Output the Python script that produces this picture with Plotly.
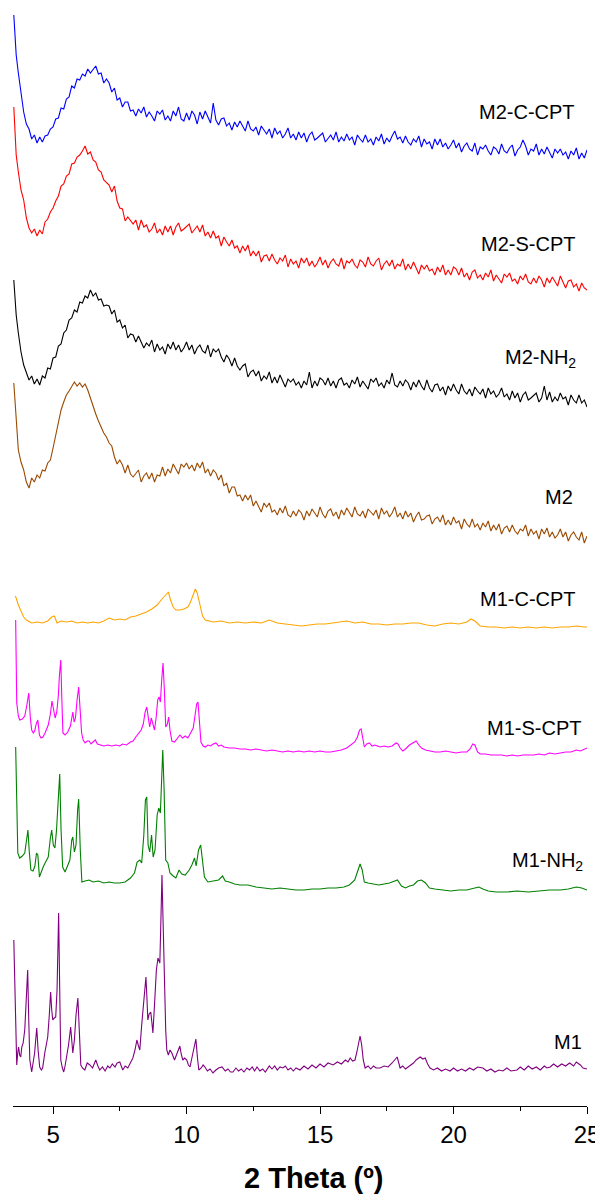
import plotly.graph_objects as go

# ---------------- data (2 theta in degrees, intensity in a.u.) ----------------
M2_THETA = [3.53, 3.57, 3.62, 3.70, 3.80, 3.90,
            4.0, 4.1, 4.2, 4.3, 4.4, 4.5, 4.6, 4.7, 4.8, 4.9,
            5.0, 5.1, 5.2, 5.3, 5.4, 5.5, 5.6, 5.7, 5.8, 5.9,
            6.0, 6.1, 6.2, 6.3, 6.4, 6.5, 6.6, 6.7, 6.8, 6.9, 7.0,
            7.1, 7.2, 7.3, 7.4, 7.5, 7.6, 7.7, 7.8, 7.9, 8.0,
            8.1, 8.2, 8.3, 8.4, 8.5, 8.6, 8.7, 8.8, 8.9, 9.0,
            9.1, 9.2, 9.3, 9.4, 9.5, 9.6, 9.7, 9.8, 9.9, 10.0,
            10.1, 10.2, 10.3, 10.4, 10.5, 10.6, 10.7, 10.8, 10.9, 11.0,
            11.1, 11.2, 11.3, 11.4, 11.5, 11.6, 11.7, 11.8, 11.9, 12.0,
            12.1, 12.2, 12.3, 12.4, 12.5, 12.6, 12.7, 12.8, 12.9, 13.0,
            13.1, 13.2, 13.3, 13.4, 13.5, 13.6, 13.7, 13.8, 13.9, 14.0,
            14.1, 14.2, 14.3, 14.4, 14.5, 14.6, 14.7, 14.8, 14.9, 15.0,
            15.1, 15.2, 15.3, 15.4, 15.5, 15.6, 15.7, 15.8, 15.9, 16.0,
            16.1, 16.2, 16.3, 16.4, 16.5, 16.6, 16.7, 16.8, 16.9, 17.0,
            17.1, 17.2, 17.3, 17.4, 17.5, 17.6, 17.7, 17.8, 17.9, 18.0,
            18.1, 18.2, 18.3, 18.4, 18.5, 18.6, 18.7, 18.8, 18.9, 19.0,
            19.1, 19.2, 19.3, 19.4, 19.5, 19.6, 19.7, 19.8, 19.9, 20.0,
            20.1, 20.2, 20.3, 20.4, 20.5, 20.6, 20.7, 20.8, 20.9, 21.0,
            21.1, 21.2, 21.3, 21.4, 21.5, 21.6, 21.7, 21.8, 21.9, 22.0,
            22.1, 22.2, 22.3, 22.4, 22.5, 22.6, 22.7, 22.8, 22.9, 23.0,
            23.1, 23.2, 23.3, 23.4, 23.5, 23.6, 23.7, 23.8, 23.9, 24.0,
            24.1, 24.2, 24.3, 24.4, 24.5, 24.6, 24.7, 24.8, 24.9, 25.0]

M2_C_CPT = [145, 125, 105, 87, 67, 48,
            36, 31, 21, 25, 17, 23, 18, 24, 25, 31,
            33, 41, 42, 52, 51, 61, 63, 74, 72, 81,
            80, 86, 84, 91, 87, 90, 94, 86, 87, 77, 81,
            77, 68, 72, 60, 62, 53, 58, 58, 49, 50,
            44, 51, 47, 53, 43, 48, 44, 39, 49, 46,
            50, 40, 44, 39, 49, 44, 53, 41, 39, 47,
            40, 49, 45, 36, 48, 41, 49, 43, 37, 57,
            40, 35, 41, 42, 34, 37, 30, 38, 33, 39,
            34, 29, 39, 31, 29, 33, 25, 34, 30, 26,
            31, 22, 32, 26, 29, 22, 26, 32, 22, 26,
            20, 28, 22, 27, 18, 25, 28, 20, 22, 25,
            27, 18, 22, 25, 20, 28, 18, 23, 19, 26,
            20, 23, 15, 25, 21, 18, 25, 18, 21, 15,
            23, 19, 26, 16, 22, 18, 24, 29, 21, 23,
            17, 24, 18, 15, 21, 18, 24, 13, 21, 16,
            18, 11, 21, 15, 21, 13, 17, 11, 15, 20,
            12, 17, 8, 14, 17, 11, 9, 17, 5, 13,
            11, 15, 9, 5, 13, 11, 6, 16, 9, 7,
            12, 15, 4, 10, 13, 20, 14, 5, 11, 9,
            16, 5, 11, 6, 13, 7, 2, 11, 7, 11,
            5, 8, 1, 9, 5, 12, 1, 7, 2, 10]

M2_S_CPT = [193, 175, 145, 128, 110, 100,
            82, 72, 67, 71, 64, 70, 66, 78, 81, 88,
            92, 99, 104, 114, 116, 124, 126, 136, 137, 143,
            145, 149, 154, 146, 148, 140, 138, 130, 128, 120, 117,
            115, 108, 114, 99, 92, 91, 79, 83, 79, 76,
            80, 70, 80, 73, 75, 68, 71, 77, 67, 71,
            65, 74, 68, 74, 65, 73, 77, 69, 71, 74,
            76, 67, 71, 74, 68, 75, 64, 68, 62, 69,
            62, 64, 54, 63, 58, 54, 60, 52, 54, 47,
            54, 49, 55, 44, 49, 44, 49, 38, 44, 45,
            39, 46, 40, 36, 42, 39, 45, 33, 41, 36,
            39, 32, 42, 37, 42, 34, 39, 33, 37, 43,
            35, 40, 32, 38, 41, 36, 34, 42, 31, 39,
            37, 41, 35, 32, 40, 38, 33, 43, 36, 34,
            39, 42, 30, 36, 39, 34, 40, 31, 36, 34,
            41, 30, 36, 31, 38, 32, 26, 35, 31, 35,
            29, 31, 25, 33, 28, 35, 25, 30, 25, 33,
            31, 25, 32, 23, 27, 20, 28, 30, 22, 25,
            20, 27, 23, 30, 19, 25, 21, 17, 26, 23,
            27, 19, 21, 16, 24, 20, 26, 18, 16, 22,
            17, 24, 20, 13, 22, 17, 23, 18, 14, 24,
            17, 12, 19, 20, 13, 16, 9, 17, 12, 10]

M2_NH2 = [130, 115, 95, 77, 58, 45,
          38, 30, 34, 26, 31, 25, 34, 32, 42, 41,
          52, 53, 64, 66, 77, 80, 90, 92, 100, 98,
          108, 107, 114, 112, 120, 114, 117, 110, 111, 104, 105,
          104, 96, 100, 88, 90, 82, 85, 72, 76, 75,
          68, 74, 67, 62, 67, 64, 70, 58, 66, 60,
          63, 56, 66, 61, 68, 60, 65, 58, 62, 68,
          60, 65, 56, 62, 65, 59, 57, 65, 53, 61,
          58, 61, 53, 48, 55, 51, 44, 52, 44, 40,
          44, 46, 33, 38, 40, 34, 39, 29, 34, 31,
          38, 27, 33, 27, 35, 28, 23, 31, 28, 31,
          25, 28, 22, 29, 25, 38, 22, 29, 24, 32,
          30, 25, 32, 24, 29, 22, 30, 32, 25, 27,
          22, 30, 26, 33, 23, 29, 25, 21, 31, 28,
          32, 24, 27, 22, 30, 26, 37, 25, 23, 29,
          24, 30, 27, 20, 28, 23, 30, 24, 20, 30,
          22, 18, 25, 26, 19, 23, 15, 24, 19, 26,
          20, 16, 26, 19, 16, 21, 14, 23, 19, 16,
          21, 12, 22, 16, 19, 13, 16, 22, 13, 16,
          10, 19, 12, 17, 8, 15, 18, 10, 12, 15,
          17, 8, 12, 24, 10, 18, 8, 13, 9, 17,
          11, 13, 5, 15, 10, 7, 15, 7, 10, 3]

M2_BARE = [167, 150, 130, 100, 88, 80,
           68, 62, 72, 68, 75, 72, 80, 79, 87, 90,
           102, 115, 126, 140, 148, 155, 159, 164, 168, 164,
           167, 163, 166, 160, 152, 142, 136, 129, 123, 117, 113,
           107, 104, 93, 86, 90, 85, 77, 85, 76, 73,
           77, 80, 68, 74, 77, 71, 77, 68, 75, 74,
           83, 74, 81, 77, 86, 81, 76, 86, 83, 87,
           81, 85, 79, 87, 82, 88, 77, 81, 74, 80,
           77, 70, 75, 64, 67, 57, 63, 63, 54, 55,
           49, 55, 50, 55, 44, 49, 44, 38, 47, 43,
           47, 38, 40, 35, 42, 37, 44, 35, 33, 39,
           34, 40, 37, 30, 39, 34, 41, 37, 33, 43,
           36, 32, 39, 41, 34, 38, 31, 40, 35, 42,
           37, 33, 43, 36, 34, 39, 32, 41, 38, 35,
           40, 31, 42, 36, 39, 33, 37, 43, 33, 37,
           31, 39, 33, 37, 28, 34, 38, 30, 31, 34,
           35, 26, 31, 33, 28, 35, 25, 30, 25, 33,
           27, 29, 21, 31, 26, 23, 31, 23, 26, 20,
           27, 23, 29, 19, 25, 20, 26, 16, 22, 24,
           18, 25, 19, 16, 21, 19, 25, 14, 21, 16,
           19, 11, 21, 16, 22, 13, 18, 12, 15, 21,
           13, 18, 9, 15, 18, 13, 10, 18, 7, 14]

M1_C_CPT_THETA = [3.58, 3.62, 3.70, 3.80, 3.90, 4.0, 4.2, 4.4, 4.6, 4.8,
                  4.95, 5.05, 5.15, 5.3, 5.5, 5.7, 5.9, 6.1, 6.3, 6.5,
                  6.7, 6.9, 7.1, 7.3, 7.5, 7.7, 7.9, 8.1, 8.3, 8.5,
                  8.7, 8.9, 9.05, 9.15, 9.25, 9.32, 9.4, 9.5, 9.6, 9.75,
                  9.9, 10.05, 10.15, 10.25, 10.33, 10.4, 10.5, 10.6, 10.7, 10.85,
                  11.0, 11.3, 11.6, 11.9, 12.2, 12.5, 12.8, 13.1, 13.4, 13.7,
                  14.0, 14.3, 14.6, 14.9, 15.2, 15.5, 15.8, 16.0, 16.3, 16.6,
                  16.9, 17.2, 17.5, 17.8, 18.1, 18.4, 18.7, 19.0, 19.3, 19.6,
                  19.9, 20.2, 20.5, 20.65, 20.8, 21.0, 21.3, 21.6, 21.9, 22.2,
                  22.5, 22.8, 23.1, 23.4, 23.7, 24.0, 24.3, 24.6, 24.9, 25.0]
M1_C_CPT = [44, 42, 35, 28, 23, 20, 17, 18, 17, 19,
            23, 24, 17, 19, 18, 19, 17, 18, 17, 18,
            17, 19, 22, 20, 21, 20, 23, 24, 26, 28,
            31, 35, 40, 43, 47, 48, 40, 33, 30, 30,
            31, 33, 38, 46, 51, 47, 35, 24, 20, 19,
            18, 19, 17, 18, 17, 18, 17, 20, 17, 16,
            15, 14, 15, 16, 16, 17, 18, 19, 17, 18,
            16, 16, 15, 16, 16, 17, 17, 15, 14, 16,
            17, 16, 18, 21, 19, 14, 13, 13, 12, 13,
            12, 13, 12, 13, 12, 13, 13, 14, 13, 13]

M1_S_CPT_THETA = [3.60, 3.64, 3.70, 3.75, 3.85, 3.94, 4.02, 4.09, 4.15, 4.20,
                  4.26, 4.31, 4.37, 4.43, 4.49, 4.55, 4.62, 4.70, 4.82, 4.90,
                  4.96, 5.02, 5.08, 5.14, 5.20, 5.24, 5.29, 5.33, 5.37, 5.45,
                  5.55, 5.65, 5.70, 5.74, 5.79, 5.84, 5.90, 5.96, 6.02, 6.07,
                  6.13, 6.20, 6.28, 6.35, 6.42, 6.50, 6.58, 6.66, 6.75, 6.90,
                  7.05, 7.20, 7.35, 7.50, 7.60, 7.75, 7.90, 8.00, 8.10, 8.20,
                  8.30, 8.38, 8.45, 8.51, 8.56, 8.62, 8.68, 8.74, 8.80, 8.86,
                  8.92, 8.97, 9.02, 9.07, 9.12, 9.17, 9.22, 9.28, 9.33, 9.38,
                  9.45, 9.55, 9.65, 9.75, 9.85, 9.95, 10.05, 10.15, 10.25, 10.32,
                  10.38, 10.43, 10.48, 10.54, 10.62, 10.70, 10.80, 10.90, 11.00, 11.10,
                  11.2, 11.3, 11.4, 11.6, 11.8, 12.0, 12.2, 12.4, 12.6, 12.8,
                  13.0, 13.2, 13.4, 13.6, 13.8, 14.0, 14.2, 14.4, 14.6, 14.8,
                  15.0, 15.2, 15.4, 15.6, 15.8, 16.0, 16.15, 16.3, 16.4, 16.48,
                  16.54, 16.60, 16.66, 16.75, 16.85, 16.95, 17.05, 17.15, 17.25, 17.40,
                  17.55, 17.70, 17.85, 17.92, 18.00, 18.10, 18.20, 18.35, 18.50, 18.60,
                  18.70, 18.80, 18.95, 19.10, 19.30, 19.50, 19.70, 19.90, 20.10, 20.30,
                  20.50, 20.62, 20.72, 20.80, 20.90, 21.00, 21.20, 21.40, 21.60, 21.80,
                  22.0, 22.2, 22.4, 22.6, 22.8, 23.0, 23.2, 23.4, 23.6, 23.8,
                  24.0, 24.2, 24.4, 24.6, 24.75, 24.9, 25.0]
M1_S_CPT = [140, 57, 44, 40, 41, 44, 55, 67, 42, 30,
            27, 29, 36, 40, 25, 22, 23, 27, 35, 46,
            59, 48, 42, 48, 65, 85, 100, 60, 27, 25,
            28, 34, 44, 48, 38, 42, 60, 73, 48, 27,
            20, 17, 19, 19, 16, 18, 20, 16, 15, 14,
            15, 14, 15, 14, 16, 15, 18, 19, 23, 27,
            30, 36, 48, 53, 42, 33, 42, 35, 30, 42,
            60, 63, 58, 80, 97, 70, 33, 36, 43, 30,
            19, 18, 22, 25, 22, 24, 22, 27, 32, 45,
            56, 58, 40, 18, 14, 13, 15, 14, 16, 17,
            14, 15, 13, 12, 12, 11, 11, 10, 11, 10,
            9, 10, 9, 8, 9, 8, 9, 8, 9, 8,
            9, 8, 8, 9, 10, 12, 15, 18, 23, 30,
            31, 20, 13, 16, 17, 14, 15, 14, 13, 14,
            13, 14, 17, 16, 12, 9, 11, 15, 17, 19,
            15, 12, 10, 9, 8, 8, 9, 8, 7, 8,
            8, 11, 16, 15, 8, 6, 6, 5, 5, 5,
            4, 5, 4, 5, 5, 5, 6, 5, 7, 6,
            7, 8, 8, 10, 9, 11, 12]

M1_NH2_THETA = [3.60, 3.64, 3.68, 3.75, 3.85, 3.94, 4.01, 4.06, 4.11, 4.17,
                4.25, 4.32, 4.38, 4.43, 4.49, 4.55, 4.63, 4.72, 4.82, 4.90,
                4.95, 5.01, 5.07, 5.13, 5.20, 5.25, 5.30, 5.36, 5.45, 5.55,
                5.63, 5.70, 5.74, 5.80, 5.86, 5.92, 5.96, 6.02, 6.08, 6.20,
                6.35, 6.50, 6.70, 6.90, 7.10, 7.30, 7.50, 7.70, 7.90, 8.05,
                8.15, 8.25, 8.32, 8.40, 8.46, 8.51, 8.56, 8.62, 8.69, 8.75,
                8.82, 8.90, 8.96, 9.02, 9.07, 9.11, 9.16, 9.22, 9.30, 9.38,
                9.50, 9.60, 9.72, 9.82, 9.95, 10.10, 10.20, 10.30, 10.36, 10.45,
                10.53, 10.60, 10.67, 10.80, 11.00, 11.20, 11.35, 11.45, 11.60, 11.80,
                12.0, 12.3, 12.6, 12.9, 13.2, 13.5, 13.8, 14.1, 14.4, 14.7,
                15.0, 15.3, 15.6, 15.9, 16.1, 16.3, 16.4, 16.5, 16.58, 16.66,
                16.8, 17.0, 17.2, 17.4, 17.6, 17.8, 17.9, 18.05, 18.2, 18.35,
                18.5, 18.65, 18.8, 18.95, 19.1, 19.3, 19.6, 19.9, 20.2, 20.5,
                20.8, 20.95, 21.1, 21.3, 21.6, 22.0, 22.4, 22.8, 23.2, 23.6,
                24.0, 24.3, 24.6, 24.8, 25.0]
M1_NH2 = [153, 100, 47, 42, 44, 47, 62, 70, 48, 30,
          29, 34, 47, 45, 23, 28, 33, 38, 43, 62,
          70, 55, 52, 70, 110, 126, 70, 33, 28, 34,
          40, 60, 63, 48, 55, 90, 101, 50, 18, 19,
          20, 18, 19, 17, 18, 17, 17, 18, 22, 27,
          38, 40, 37, 65, 100, 103, 55, 48, 65, 43,
          50, 85, 92, 87, 130, 150, 110, 40, 37, 27,
          24, 22, 30, 26, 25, 30, 35, 42, 34, 50,
          55, 40, 23, 18, 19, 20, 24, 19, 18, 16,
          15, 15, 13, 12, 11, 12, 11, 10, 10, 11,
          11, 12, 12, 13, 15, 20, 28, 36, 30, 18,
          17, 16, 15, 16, 17, 19, 20, 14, 12, 14,
          15, 19, 20, 17, 12, 11, 10, 9, 10, 10,
          12, 13, 11, 9, 8, 8, 9, 8, 9, 10,
          10, 11, 13, 12, 10]

M1_THETA = [3.53, 3.57, 3.60, 3.64, 3.68, 3.71, 3.75, 3.79, 3.83, 3.88,
            3.94, 4.00, 4.05, 4.09, 4.13, 4.20, 4.25, 4.31, 4.35, 4.39,
            4.44, 4.50, 4.56, 4.61, 4.69, 4.75, 4.80, 4.86, 4.91, 4.95,
            4.99, 5.05, 5.10, 5.15, 5.21, 5.25, 5.29, 5.35, 5.40, 5.45,
            5.51, 5.58, 5.66, 5.70, 5.74, 5.80, 5.86, 5.93, 5.98, 6.04,
            6.10, 6.19, 6.28, 6.38, 6.48, 6.60, 6.68, 6.75, 6.85, 6.95,
            7.05, 7.13, 7.22, 7.32, 7.40, 7.50, 7.61, 7.70, 7.80, 7.90,
            7.99, 8.07, 8.14, 8.20, 8.25, 8.32, 8.40, 8.48, 8.52, 8.55,
            8.60, 8.66, 8.70, 8.74, 8.80, 8.87, 8.93, 9.00, 9.04, 9.08,
            9.12, 9.16, 9.19, 9.22, 9.26, 9.32, 9.38, 9.45, 9.55, 9.65,
            9.75, 9.80, 9.86, 9.93, 10.01, 10.07, 10.13, 10.20, 10.27, 10.35,
            10.41, 10.46, 10.55, 10.62, 10.69, 10.78, 10.88, 10.99, 11.10, 11.20,
            11.33, 11.45, 11.55, 11.65, 11.74, 11.85, 11.95, 12.05, 12.15, 12.26,
            12.36, 12.46, 12.55, 12.64, 12.75, 12.85, 12.95, 13.01, 13.10, 13.20,
            13.30, 13.40, 13.50, 13.61, 13.70, 13.80, 13.90, 14.00, 14.10, 14.25,
            14.40, 14.55, 14.70, 14.85, 15.00, 15.15, 15.30, 15.49, 15.65, 15.80,
            15.95, 16.05, 16.13, 16.22, 16.31, 16.38, 16.44, 16.50, 16.56, 16.62,
            16.69, 16.80, 16.90, 17.00, 17.10, 17.25, 17.40, 17.55, 17.70, 17.80,
            17.89, 17.95, 18.00, 18.10, 18.20, 18.35, 18.50, 18.60, 18.68, 18.75,
            18.85, 18.94, 19.03, 19.12, 19.25, 19.40, 19.55, 19.70, 19.87, 20.00,
            20.15, 20.30, 20.45, 20.60, 20.75, 20.90, 21.10, 21.25, 21.40, 21.55,
            21.70, 21.85, 22.00, 22.15, 22.38, 22.50, 22.65, 22.80, 22.95, 23.10,
            23.25, 23.40, 23.50, 23.62, 23.75, 23.90, 24.05, 24.20, 24.35, 24.50,
            24.60, 24.75, 24.85, 25.00]
M1_BARE = [140, 95, 60, 15, 28, 33, 25, 23, 33, 37,
           50, 80, 110, 60, 20, 8, 16, 27, 40, 52,
           30, 13, 10, 12, 27, 34, 43, 65, 88, 70,
           60, 62, 63, 90, 167, 90, 20, 12, 8, 14,
           23, 35, 53, 40, 27, 40, 65, 82, 45, 15,
           12, 10, 17, 15, 12, 20, 14, 10, 13, 9,
           14, 12, 16, 13, 17, 18, 10, 14, 12, 18,
           22, 30, 40, 34, 30, 55, 80, 103, 80, 60,
           66, 68, 58, 47, 75, 110, 122, 117, 160, 205,
           160, 110, 100, 50, 30, 25, 30, 27, 20, 28,
           34, 26, 20, 22, 20, 15, 13, 22, 32, 41,
           22, 10, 12, 15, 13, 9, 11, 7, 10, 12,
           13, 9, 11, 8, 8, 12, 9, 11, 8, 12,
           10, 13, 9, 13, 9, 11, 8, 10, 14, 11,
           14, 10, 13, 12, 14, 10, 12, 9, 12, 10,
           14, 11, 15, 12, 16, 13, 17, 15, 18, 16,
           20, 18, 22, 19, 20, 28, 38, 44, 35, 20,
           12, 14, 11, 14, 12, 12, 14, 13, 17, 20,
           23, 17, 12, 14, 11, 14, 17, 20, 22, 23,
           21, 22, 16, 12, 10, 12, 9, 11, 9, 12,
           9, 11, 9, 12, 10, 13, 12, 9, 11, 8,
           10, 9, 12, 9, 10, 13, 10, 14, 11, 13,
           10, 14, 12, 13, 16, 13, 16, 14, 17, 14,
           18, 15, 12, 11]

LABELS = ["M2-C-CPT", "M2-S-CPT", "M2-NH<sub>2</sub>", "M2",
          "M1-C-CPT", "M1-S-CPT", "M1-NH<sub>2</sub>", "M1"]
TICKS = [5, 10, 15, 20, 25]

# ---------------- styling / stacking ----------------
series = [
    (M2_THETA, M2_C_CPT, 946, "#0000FF"),
    (M2_THETA, M2_S_CPT, 806, "#FF0000"),
    (M2_THETA, M2_NH2, 696, "#000000"),
    (M2_THETA, M2_BARE, 556, "#9A4A00"),
    (M1_C_CPT_THETA, M1_C_CPT, 466, "#FFA500"),
    (M1_S_CPT_THETA, M1_S_CPT, 346, "#FF00FF"),
    (M1_NH2_THETA, M1_NH2, 206, "#008000"),
    (M1_THETA, M1_BARE, 26, "#800080"),
]
# label anchor: right edge (page px) and vertical centre (plot units)
label_pos = [(577, 994), (577, 862), (578, 748), (575, 609),
             (578, 507), (583, 378), (585, 245), (584, 64)]

# the page body has an 8 px margin, so the figure is drawn 8 px smaller
OFF = 8
W, H = 603 - OFF, 1195 - OFF
ML, MR, MT, MB = 13.3 - OFF, 16.3, 0, 89
PW = W - ML - MR
PH = H - MT - MB  # 1098

fig = go.Figure()
for (xs, ys, off, col), name in zip(series, LABELS):
    n = min(len(xs), len(ys))
    fig.add_trace(go.Scatter(
        x=xs[:n], y=[v + off for v in ys[:n]], mode="lines", name=name,
        line=dict(color=col, width=1.1), hoverinfo="skip", showlegend=False))

FONT = "Liberation Sans, Arial, sans-serif"
for name, (px, yv) in zip(LABELS, label_pos):
    fig.add_annotation(x=(px - OFF - ML) / PW, xref="paper", y=yv, yref="y",
                       text=name, showarrow=False, xanchor="right", yanchor="middle",
                       font=dict(family=FONT, size=20, color="#000000"))

fig.add_annotation(x=(314 - OFF - ML) / PW, xref="paper",
                   y=(PH - (1178 - OFF)) / PH, yref="paper",
                   text="<b>2 Theta (º)</b>", showarrow=False, xanchor="center", yanchor="middle",
                   font=dict(family=FONT, size=29, color="#000000"))

fig.update_layout(
    width=W, height=H,
    margin=dict(l=ML, r=MR, t=MT, b=MB, pad=0),
    paper_bgcolor="white", plot_bgcolor="white",
    xaxis=dict(range=[3.5, 25], tickvals=TICKS, ticktext=[str(t) for t in TICKS],
               showline=True, linecolor="black", linewidth=1.3,
               ticks="outside", ticklen=7, tickwidth=1.3, tickcolor="black",
               minor=dict(ticks="outside", ticklen=4, tickwidth=1.2, tickcolor="black",
                          tickvals=[7.5, 12.5, 17.5, 22.5]),
               showgrid=False, zeroline=False,
               tickfont=dict(family=FONT, size=24, color="black")),
    yaxis=dict(range=[0, 1098], visible=False, showgrid=False, zeroline=False),
)

fig.write_html("out.html")
